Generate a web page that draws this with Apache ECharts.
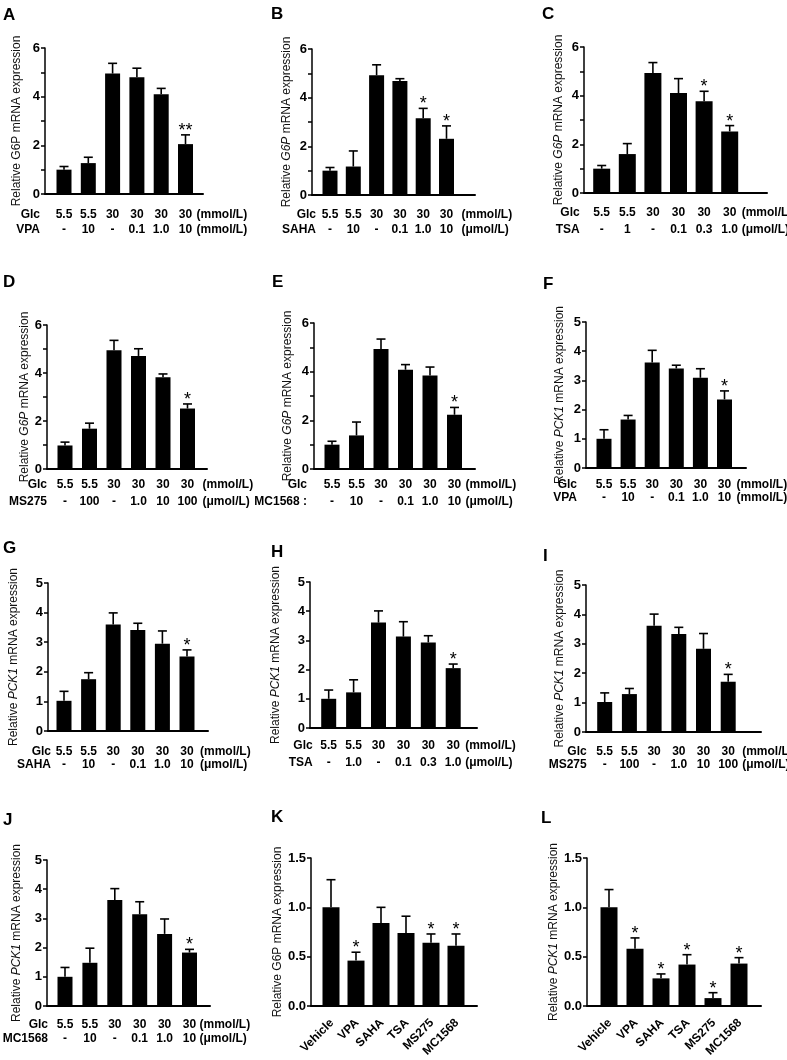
<!DOCTYPE html>
<html><head><meta charset="utf-8">
<script src="https://cdn.jsdelivr.net/npm/echarts@6/dist/echarts.min.js"></script>
<style>html,body{margin:0;padding:0;background:#fff}#c{width:787px;height:1060px}</style>
</head><body><div id="c"></div>
<script>
// ---------- data ----------
const glcRow = ['5.5', '5.5', '30', '30', '30', '30'];
const drugVPA = ['-', '10', '-', '0.1', '1.0', '10'];
const drugSAHA = ['-', '10', '-', '0.1', '1.0', '10'];
const drugTSA_C = ['-', '1', '-', '0.1', '0.3', '1.0'];
const drugTSA_H = ['-', '1.0', '-', '0.1', '0.3', '1.0'];
const drugMS275 = ['-', '100', '-', '1.0', '10', '100'];
const drugMC1568 = ['-', '10', '-', '0.1', '1.0', '10'];
const inhibitors = ['Vehicle', 'VPA', 'SAHA', 'TSA', 'MS275', 'MC1568'];

const meanA = [1.0, 1.27, 4.95, 4.8, 4.1, 2.05];
const sdA   = [0.13, 0.24, 0.42, 0.37, 0.24, 0.38];
const sigA  = ['', '', '', '', '', '**'];
const meanB = [1.0, 1.17, 4.92, 4.68, 3.15, 2.31];
const sdB   = [0.13, 0.64, 0.43, 0.1, 0.41, 0.53];
const sigB  = ['', '', '', '', '*', '*'];
const meanC = [1.0, 1.6, 4.93, 4.11, 3.77, 2.53];
const sdC   = [0.13, 0.43, 0.43, 0.59, 0.41, 0.24];
const sigC  = ['', '', '', '', '*', '*'];
const meanD = [0.98, 1.68, 4.95, 4.71, 3.82, 2.52];
const sdD   = [0.14, 0.23, 0.41, 0.3, 0.14, 0.19];
const sigD  = ['', '', '', '', '', '*'];
const meanE = [1.0, 1.38, 4.93, 4.08, 3.84, 2.23];
const sdE   = [0.14, 0.55, 0.41, 0.21, 0.35, 0.3];
const sigE  = ['', '', '', '', '', '*'];
const meanF = [1.0, 1.66, 3.61, 3.41, 3.09, 2.35];
const sdF   = [0.31, 0.14, 0.42, 0.11, 0.31, 0.29];
const sigF  = ['', '', '', '', '', '*'];
const meanG = [1.02, 1.75, 3.6, 3.41, 2.95, 2.52];
const sdG   = [0.32, 0.22, 0.39, 0.23, 0.43, 0.22];
const sigG  = ['', '', '', '', '', '*'];
const meanH = [1.0, 1.22, 3.61, 3.13, 2.93, 2.05];
const sdH   = [0.3, 0.43, 0.4, 0.51, 0.23, 0.14];
const sigH  = ['', '', '', '', '', '*'];
const meanI = [1.02, 1.29, 3.61, 3.33, 2.83, 1.71];
const sdI   = [0.31, 0.19, 0.4, 0.23, 0.52, 0.25];
const sigI  = ['', '', '', '', '', '*'];
const meanJ = [1.0, 1.48, 3.63, 3.14, 2.47, 1.83];
const sdJ   = [0.32, 0.5, 0.39, 0.43, 0.51, 0.11];
const sigJ  = ['', '', '', '', '', '*'];
const meanK = [1.0, 0.46, 0.84, 0.74, 0.64, 0.61];
const sdK   = [0.28, 0.085, 0.16, 0.17, 0.09, 0.12];
const sigK  = ['', '*', '', '', '*', '*'];
const meanL = [1.0, 0.58, 0.28, 0.42, 0.08, 0.43];
const sdL   = [0.18, 0.11, 0.045, 0.1, 0.055, 0.06];
const sigL  = ['', '*', '*', '*', '*', '*'];

const FONT = "'Liberation Sans', Arial, sans-serif";

// ---------- panels (data refs + layout) ----------
const panels = [
  {letter:'A', lx:3, ly:7, gene:'G6P', it:false, mean:meanA, sd:sdA, sig:sigA, drug:'VPA', drugRow:drugVPA, u1:'(mmol/L)', u2:'(mmol/L)', ymax:6, even:true,
   xL:45, xR:203, yTop:48, y0:194, c0:64, s:24.3, bw:15, gap:22, hdr:24, rows:[21,36], unit:11},
  {letter:'B', lx:271, ly:6, gene:'G6P', it:true, mean:meanB, sd:sdB, sig:sigB, drug:'SAHA', drugRow:drugSAHA, u1:'(mmol/L)', u2:'(μmol/L)', ymax:6, even:true,
   xL:312, xR:475, yTop:49, y0:195, c0:330, s:23.3, bw:15, gap:19, hdr:14, rows:[20,35], unit:15},
  {letter:'C', lx:542, ly:6, gene:'G6P', it:true, mean:meanC, sd:sdC, sig:sigC, drug:'TSA', drugRow:drugTSA_C, u1:'(mmol/L)', u2:'(μmol/L)', ymax:6, even:true,
   xL:584, xR:767, yTop:47, y0:193, c0:601.7, s:25.6, bw:17, gap:19, hdr:22, rows:[20,37], unit:12},
  {letter:'D', lx:3, ly:274, gene:'G6P', it:true, mean:meanD, sd:sdD, sig:sigD, drug:'MS275', drugRow:drugMS275, u1:'(mmol/L)', u2:'(μmol/L)', ymax:6, even:true,
   xL:47, xR:207, yTop:325, y0:469, c0:65, s:24.5, bw:15, gap:15, hdr:18, rows:[16,33], unit:15},
  {letter:'E', lx:272, ly:274, gene:'G6P', it:true, mean:meanE, sd:sdE, sig:sigE, drug:'MC1568 :', drugRow:drugMC1568, u1:'(mmol/L)', u2:'(μmol/L)', ymax:6, even:true,
   xL:314, xR:475, yTop:323, y0:469, c0:332, s:24.5, bw:15, gap:20, hdr:25, rows:[16,33], unit:11},
  {letter:'F', lx:543, ly:276, gene:'PCK1', it:true, mean:meanF, sd:sdF, sig:sigF, drug:'VPA', drugRow:drugVPA, u1:'(mmol/L)', u2:'(mmol/L)', ymax:5, even:false,
   xL:586, xR:746, yTop:322, y0:468, c0:604, s:24.1, bw:15, gap:20, hdr:27, rows:[17,30], unit:12},
  {letter:'G', lx:3, ly:540, gene:'PCK1', it:true, mean:meanG, sd:sdG, sig:sigG, drug:'SAHA', drugRow:drugSAHA, u1:'(mmol/L)', u2:'(μmol/L)', ymax:5, even:false,
   xL:48, xR:208, yTop:583, y0:731, c0:64, s:24.6, bw:15, gap:28, hdr:13, rows:[21,34], unit:13},
  {letter:'H', lx:271, ly:544, gene:'PCK1', it:true, mean:meanH, sd:sdH, sig:sigH, drug:'TSA', drugRow:drugTSA_H, u1:'(mmol/L)', u2:'(μmol/L)', ymax:5, even:false,
   xL:310, xR:477, yTop:582, y0:728, c0:328.7, s:24.9, bw:15, gap:28, hdr:16, rows:[18,35], unit:12},
  {letter:'I', lx:543, ly:548, gene:'PCK1', it:true, mean:meanI, sd:sdI, sig:sigI, drug:'MS275', drugRow:drugMS275, u1:'(mmol/L)', u2:'(μmol/L)', ymax:5, even:false,
   xL:586, xR:761, yTop:585, y0:732, c0:604.7, s:24.7, bw:15, gap:20, hdr:18, rows:[20,33], unit:14},
  {letter:'J', lx:3, ly:812, gene:'PCK1', it:true, mean:meanJ, sd:sdJ, sig:sigJ, drug:'MC1568', drugRow:drugMC1568, u1:'(mmol/L)', u2:'(μmol/L)', ymax:5, even:false,
   xL:47, xR:210, yTop:860, y0:1006, c0:65, s:24.9, bw:15, gap:24, hdr:17, rows:[19,33], unit:10},
  {letter:'K', lx:271, ly:809, gene:'G6P', it:false, mean:meanK, sd:sdK, sig:sigK, cats:inhibitors, ymax:1.5, frac:true,
   xL:311, xR:477, yTop:858, y0:1006, c0:331, s:25, bw:17, gap:24},
  {letter:'L', lx:541, ly:810, gene:'PCK1', it:true, mean:meanL, sd:sdL, sig:sigL, cats:inhibitors, ymax:1.5, frac:true,
   xL:587, xR:761, yTop:858, y0:1006, c0:609, s:26, bw:17, gap:26}
];

const txt = (x, y, text, align) => ({
  type: 'text', x, y,
  style: {text, align, verticalAlign: 'middle', fontSize: 12, fontWeight: 'bold', fontFamily: FONT, fill: '#000'}
});

const grids = [], xAxes = [], yAxes = [], series = [], graphics = [];
panels.forEach((p, idx) => {
  grids.push({left: p.xL, top: p.yTop, width: p.xR - p.xL, height: p.y0 - p.yTop, containLabel: false});
  xAxes.push({type: 'value', gridIndex: idx, min: (p.xL - p.c0) / p.s, max: (p.xR - p.c0) / p.s,
    axisLine: {show: true, onZero: false, lineStyle: {color: '#000', width: 2}},
    axisTick: {show: false}, axisLabel: {show: false}, splitLine: {show: false}});
  yAxes.push({type: 'value', gridIndex: idx, min: 0, max: p.ymax, interval: p.frac ? 0.5 : 1,
    axisLine: {show: true, onZero: false, lineStyle: {color: '#000', width: 1.5}},
    axisTick: {show: true, length: 4, lineStyle: {color: '#000', width: 1.5}},
    splitLine: {show: false},
    axisLabel: {margin: 5, color: '#000', fontWeight: 'bold', fontSize: 13, fontFamily: FONT,
      formatter: v => p.frac ? v.toFixed(1) : (p.even && v % 2 !== 0 ? '' : String(v))},
    name: '{n|Relative }{g|' + p.gene + '}{n| mRNA expression}',
    nameLocation: 'middle', nameRotate: 90, nameGap: p.gap,
    nameTextStyle: {rich: {
      n: {fontSize: 12, fontFamily: FONT, color: '#111'},
      g: {fontSize: 12, fontFamily: FONT, color: '#111', fontStyle: p.it ? 'italic' : 'normal'}
    }}});
  series.push({type: 'bar', xAxisIndex: idx, yAxisIndex: idx, barWidth: p.bw, silent: true,
    itemStyle: {color: '#000'}, data: p.mean.map((v, i) => [i, v])});
  series.push({type: 'custom', xAxisIndex: idx, yAxisIndex: idx, clip: false, silent: true, z: 4,
    data: p.mean.map((v, i) => [i, v, p.sd[i]]),
    renderItem(params, api) {
      const i = api.value(0), m = api.value(1), e = api.value(2);
      const a = api.coord([i, m]), b = api.coord([i, m + e]);
      const hw = 4.5;
      const ch = [
        {type: 'line', shape: {x1: a[0], y1: a[1], x2: b[0], y2: b[1]}, style: {stroke: '#000', lineWidth: 1.6}},
        {type: 'line', shape: {x1: b[0] - hw, y1: b[1], x2: b[0] + hw, y2: b[1]}, style: {stroke: '#000', lineWidth: 1.6}}
      ];
      const s = p.sig[params.dataIndex];
      if (s) ch.push({type: 'text', x: b[0], y: b[1] - 4, style: {text: s, align: 'center', verticalAlign: 'middle', fontSize: 18, fontFamily: FONT, fill: '#000'}});
      return {type: 'group', children: ch};
    }});
  series.push({type: 'custom', xAxisIndex: idx, yAxisIndex: idx, clip: false, silent: true, z: 5,
    data: p.mean.map((v, i) => [i, 0]),
    renderItem(params, api) {
      const i = api.value(0);
      const c = api.coord([i, 0]);
      const ch = [];
      if (p.cats) {
        ch.push({type: 'text', x: c[0] + 1, y: c[1] + 15, rotation: Math.PI / 4,
          style: {text: p.cats[i], align: 'right', verticalAlign: 'middle', fontSize: 12, fontWeight: 'bold', fontFamily: FONT, fill: '#000'}});
      } else {
        ch.push(txt(c[0], c[1] + p.rows[0], glcRow[i], 'center'));
        ch.push(txt(c[0], c[1] + p.rows[1], p.drugRow[i], 'center'));
        if (i === 0) {
          ch.push(txt(c[0] - p.hdr, c[1] + p.rows[0], 'Glc', 'right'));
          ch.push(txt(c[0] - p.hdr, c[1] + p.rows[1], p.drug, 'right'));
        }
        if (i === p.mean.length - 1) {
          ch.push(txt(c[0] + p.unit, c[1] + p.rows[0], p.u1, 'left'));
          ch.push(txt(c[0] + p.unit, c[1] + p.rows[1], p.u2, 'left'));
        }
      }
      return {type: 'group', children: ch};
    }});
  graphics.push({type: 'text', left: p.lx, top: p.ly,
    style: {text: p.letter, fontSize: 17, fontWeight: 'bold', fontFamily: FONT, fill: '#000'}});
});

const chart = echarts.init(document.getElementById('c'), null, {renderer: 'canvas'});
chart.setOption({
  animation: false,
  backgroundColor: '#fff',
  grid: grids, xAxis: xAxes, yAxis: yAxes, series, graphic: graphics
});
</script></body></html>
